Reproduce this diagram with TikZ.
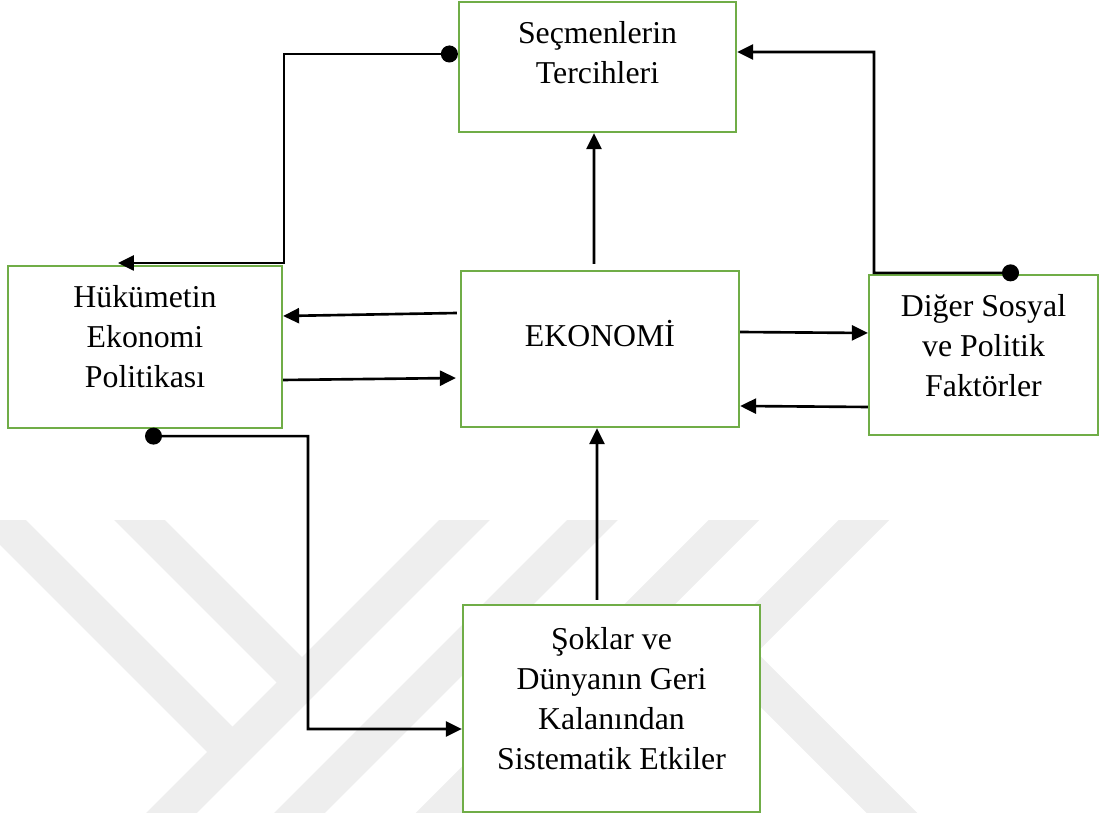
\documentclass[tikz,border=0pt]{standalone}
\usepackage{fontspec}
\setmainfont{Liberation Serif}
\usetikzlibrary{arrows.meta}
\usetikzlibrary{calc}
\usetikzlibrary{positioning}
\definecolor{boxgreen}{HTML}{70AD47}
\definecolor{wmgray}{HTML}{EEEEEE}

\begin{document}
\begin{tikzpicture}[x=0.02cm,y=-0.02cm]
\tikzset{kutu/.style={draw=boxgreen,line width=1.3pt,fill=white,rectangle,inner sep=0pt}}
\tikzset{yazi/.style={inner sep=0pt,align=center,font=\fontsize{18.1}{22.76}\selectfont}}
\tikzset{ok/.style={line width=1.5pt,-{Triangle[length=0.32cm,width=0.3cm]}}}
\tikzset{nokta/.style={line width=1.5pt,{Circle[length=0.34cm]}-{Triangle[length=0.32cm,width=0.3cm]}}}

\useasboundingbox (0,0) rectangle (1101,813);

% watermark
\begin{scope}
\clip (0,520) rectangle (1101,813);
\draw[wmgray,line width=0.72cm] (-39.5,480) -- (232.5,752);
\draw[wmgray,line width=0.72cm] (99.5,480) -- (302,682.5);
\draw[wmgray,line width=0.72cm] (504.5,480) -- (131.5,853);
\draw[wmgray,line width=0.72cm] (632.5,480) -- (259.5,853);
\draw[wmgray,line width=0.72cm] (774,480) -- (401,853);
\draw[wmgray,line width=0.72cm,miter limit=10] (904,480) -- (731.5,652.5) -- (932,853);
\end{scope}

\node[kutu,minimum width=5.54cm,minimum height=2.6cm] (sec) at (597.5,67) {};
\node[kutu,minimum width=5.56cm,minimum height=3.12cm] (eko) at (600,349) {};
\node[kutu,minimum width=5.48cm,minimum height=3.24cm] (huk) at (145,347) {};
\node[kutu,minimum width=4.58cm,minimum height=3.2cm] (dig) at (983.5,355) {};
\node[kutu,minimum width=5.94cm,minimum height=4.14cm] (sok) at (611.5,708.5) {};

\node[yazi,anchor=north] (tsec) at ([yshift=-0.4cm]sec.north) {Seçmenlerin\\Tercihleri};
\node[yazi,anchor=base] (teko) at ([yshift=-1.54cm]eko.north) {EKONOMİ};
\node[yazi,anchor=north] (thuk) at ([yshift=-0.4cm]huk.north) {Hükümetin\\Ekonomi\\Politikası};
\node[yazi,anchor=north] (tdig) at ([yshift=-0.4cm]dig.north) {Diğer Sosyal\\ve Politik\\Faktörler};
\node[yazi,anchor=north] (tsok) at ([yshift=-0.46cm]sok.north) {Şoklar ve\\Dünyanın Geri\\Kalanından\\Sistematik Etkiler};

\coordinate (k1) at (284,263);
\coordinate (k2) at (874,52);
\coordinate (k3) at (308,729);
\coordinate (hukust) at (118,263);

\draw[ok] ([shift={(-0.12cm,0.12cm)}]eko.north) -- ([xshift=-0.07cm]sec.south);
\draw[ok] ([shift={(-0.29cm,0.08cm)}]sok.north) -- ([xshift=-0.06cm]eko.south);
\draw[ok] ([shift={(-0.06cm,0.72cm)}]eko.west) -- ([yshift=0.62cm]huk.east);
\draw[ok] ([yshift=-0.66cm]huk.east) -- ([shift={(-0.08cm,-0.58cm)}]eko.west);
\draw[ok] ([yshift=0.34cm]eko.east) -- ([yshift=0.44cm]dig.west);
\draw[ok] ([yshift=-1.04cm]dig.west) -- ([yshift=-1.14cm]eko.east);

\draw[nokta] ([yshift=0.26cm]sec.west) -| (k1) -- (hukust);
\draw[nokta] ([shift={(0.71cm,0.02cm)}]dig.north) -| (k2) -- ([yshift=0.3cm]sec.east);
\draw[nokta] ([yshift=-0.14cm]huk.south) -| (k3) -- ([yshift=-0.41cm]sok.west);
\end{tikzpicture}
\end{document}
